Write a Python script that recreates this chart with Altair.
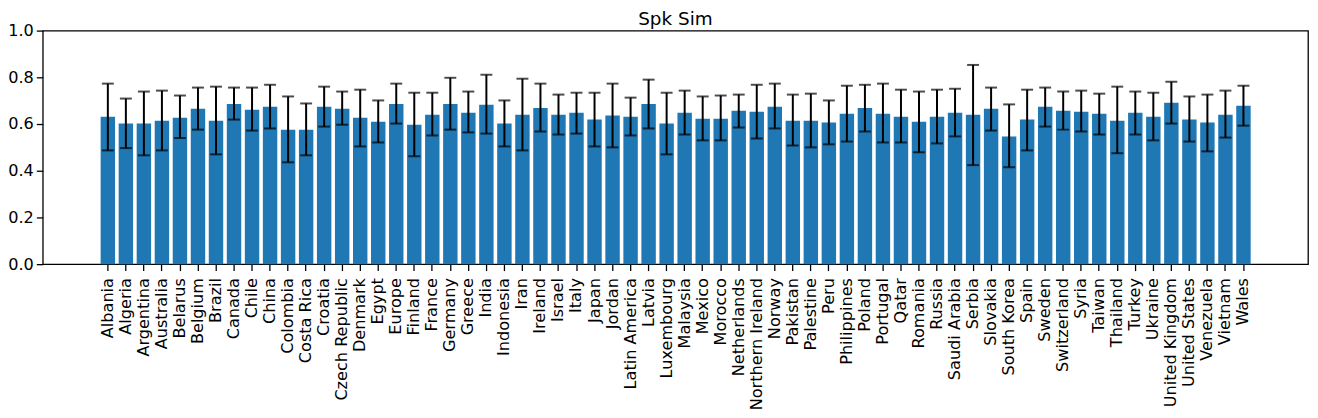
import altair as alt
import pandas as pd

countries = ["Albania", "Algeria", "Argentina", "Australia", "Belarus", "Belgium", "Brazil", "Canada",
             "Chile", "China", "Colombia", "Costa Rica", "Croatia", "Czech Republic", "Denmark", "Egypt",
             "Europe", "Finland", "France", "Germany", "Greece", "India", "Indonesia", "Iran",
             "Ireland", "Israel", "Italy", "Japan", "Jordan", "Latin America", "Latvia", "Luxembourg",
             "Malaysia", "Mexico", "Morocco", "Netherlands", "Northern Ireland", "Norway", "Pakistan", "Palestine",
             "Peru", "Philippines", "Poland", "Portugal", "Qatar", "Romania", "Russia", "Saudi Arabia",
             "Serbia", "Slovakia", "South Korea", "Spain", "Sweden", "Switzerland", "Syria", "Taiwan",
             "Thailand", "Turkey", "Ukraine", "United Kingdom", "United States", "Venezuela", "Vietnam", "Wales"]

values = [0.631, 0.602, 0.602, 0.614, 0.627, 0.665, 0.614, 0.686,
          0.661, 0.674, 0.576, 0.576, 0.674, 0.665, 0.627, 0.610,
          0.686, 0.597, 0.640, 0.686, 0.648, 0.682, 0.602, 0.640,
          0.669, 0.640, 0.648, 0.619, 0.636, 0.631, 0.686, 0.602,
          0.648, 0.623, 0.623, 0.657, 0.653, 0.674, 0.614, 0.614,
          0.606, 0.644, 0.669, 0.644, 0.631, 0.610, 0.631, 0.648,
          0.640, 0.665, 0.547, 0.619, 0.674, 0.657, 0.653, 0.644,
          0.614, 0.648, 0.631, 0.691, 0.619, 0.606, 0.640, 0.678]

upper = [0.773, 0.709, 0.739, 0.743, 0.722, 0.756, 0.760, 0.756,
         0.756, 0.768, 0.718, 0.688, 0.760, 0.739, 0.747, 0.701,
         0.773, 0.734, 0.734, 0.798, 0.739, 0.811, 0.701, 0.794,
         0.773, 0.726, 0.734, 0.734, 0.773, 0.713, 0.790, 0.734,
         0.743, 0.718, 0.722, 0.726, 0.768, 0.773, 0.726, 0.730,
         0.701, 0.764, 0.768, 0.773, 0.747, 0.739, 0.747, 0.751,
         0.853, 0.756, 0.684, 0.747, 0.756, 0.739, 0.743, 0.730,
         0.760, 0.739, 0.734, 0.781, 0.718, 0.726, 0.743, 0.764]

lower = [0.487, 0.497, 0.466, 0.487, 0.540, 0.576, 0.470, 0.619,
         0.572, 0.581, 0.436, 0.466, 0.589, 0.597, 0.504, 0.521,
         0.602, 0.462, 0.551, 0.576, 0.564, 0.559, 0.504, 0.487,
         0.568, 0.555, 0.559, 0.504, 0.500, 0.551, 0.581, 0.470,
         0.555, 0.530, 0.530, 0.585, 0.538, 0.581, 0.508, 0.500,
         0.513, 0.525, 0.568, 0.521, 0.521, 0.479, 0.517, 0.547,
         0.424, 0.572, 0.415, 0.487, 0.589, 0.576, 0.568, 0.555,
         0.475, 0.555, 0.530, 0.602, 0.525, 0.483, 0.542, 0.593]

y_ticks = [0.0, 0.2, 0.4, 0.6, 0.8, 1.0]
title_text = ["Spk Sim"]

df = pd.DataFrame({"country": countries, "value": values, "upper": upper, "lower": lower})
title_df = pd.DataFrame({"t": title_text})

FONT = "DejaVu Sans"
W, H = 1273, 235

x_enc = alt.X(
    "country:N",
    sort=countries,
    scale=alt.Scale(paddingInner=0.2, paddingOuter=0, range=[58.2, 1215.3]),
    axis=alt.Axis(title=None, labelAngle=270, labelPadding=7, domain=False),
)

base = alt.Chart(df).encode(x=x_enc)

bars = base.mark_bar(color="#1f77b4").encode(
    y=alt.Y(
        "value:Q",
        scale=alt.Scale(domain=[0, 1], nice=False, zero=True),
        axis=alt.Axis(title=None, values=y_ticks, format=".1f", grid=False, domain=False, labelPadding=3),
    )
)

rule = base.mark_rule(color="black", strokeWidth=2).encode(y="lower:Q", y2="upper:Q")
cap_lo = base.mark_tick(color="black", size=12, thickness=2).encode(y="lower:Q")
cap_hi = base.mark_tick(color="black", size=12, thickness=2).encode(y="upper:Q")

title_mark = alt.Chart(title_df).mark_text(
    font=FONT, fontSize=18.5, color="black", align="center", baseline="alphabetic"
).encode(text="t:N", x=alt.value(W / 2), y=alt.value(-5.5))

chart = (
    alt.layer(bars, rule, cap_lo, cap_hi, title_mark)
    .properties(
        width=W,
        height=H,
        padding={"left": 35, "top": 21.5, "right": 2, "bottom": 145},
        autosize=alt.AutoSizeParams(type="none"),
    )
    .configure_view(stroke="black", strokeWidth=1.3)
    .configure_axis(
        labelFont=FONT,
        labelFontSize=16.2,
        labelColor="black",
        tickColor="black",
        tickWidth=1.3,
        tickSize=6.5,
        grid=False,
    )
)

chart.save("out.html", embed_options={"renderer": "svg", "actions": False})
